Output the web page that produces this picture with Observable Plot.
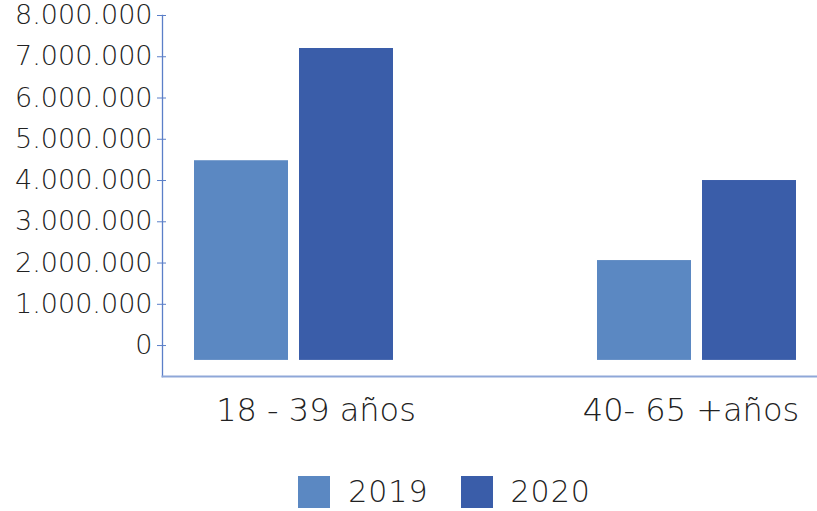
<!DOCTYPE html>
<html>
<head>
<meta charset="utf-8">
<script src="https://cdn.jsdelivr.net/npm/d3@7"></script>
<script src="https://cdn.jsdelivr.net/npm/@observablehq/plot@0.6"></script>
<style>
  body { margin: 0; background: #fff; font-family: "DejaVu Sans", sans-serif; }
  #legend { display: flex; justify-content: center; align-items: center; height: 71px; margin-top: 16px; margin-left: 72px; }
  .item { display: flex; align-items: center; margin: 0 16px; font-size: 30px; font-weight: 200; letter-spacing: 1px; color: #222; }
  .sw { width: 32px; height: 32px; margin-right: 18px; }
</style>
</head>
<body>
<div id="chart"></div>
<div id="legend"></div>
<script>
const categories = ["18 - 39 años", "40- 65 +años"];
const years = ["2019", "2020"];
const values2019 = [4480000, 2060000];
const values2020 = [7200000, 4000000];
const yTicks = [0, 1000000, 2000000, 3000000, 4000000, 5000000, 6000000, 7000000, 8000000];
const colors = {"2019": "#5b88c2", "2020": "#3a5da9"};
const baseline = -360000;   // bars start slightly below zero in the original
const yMin = -750000;

const data = [];
categories.forEach((c, i) => {
  data.push({category: c, year: "2019", value: values2019[i]});
  data.push({category: c, year: "2020", value: values2020[i]});
});

const loc = d3.formatLocale({decimal: ",", thousands: ".", grouping: [3], currency: ["", ""]});
const fmt = loc.format(",d");

const chart = Plot.plot({
  width: 817,
  height: 440,
  marginLeft: 162,
  marginRight: 0,
  marginTop: 15,
  marginBottom: 64,
  style: {fontFamily: "DejaVu Sans, sans-serif", fontWeight: 200, color: "#222", background: "#fff"},
  x: {domain: categories, range: [162, 828], paddingInner: 0.505, paddingOuter: 0.077},
  y: {domain: [yMin, 8000000]},
  marks: [
    Plot.barY(data.filter(d => d.year === "2019"), {x: "category", y1: baseline, y2: "value", fill: colors["2019"], insetRight: 105}),
    Plot.barY(data.filter(d => d.year === "2020"), {x: "category", y1: baseline, y2: "value", fill: colors["2020"], insetLeft: 105}),
    Plot.frame({anchor: "left", stroke: "#5b7fc8", strokeWidth: 1.3}),
    Plot.frame({anchor: "bottom", stroke: "#8fa7d8", strokeWidth: 2}),
    Plot.axisY({ticks: yTicks, tickFormat: fmt, tickSize: 9, dx: 4, tickPadding: 5, stroke: "#5b7fc8", fontSize: 27, fill: "#222", style: "letter-spacing:1px", label: null}),
    Plot.axisX({ticks: [categories[0]], tickSize: 0, tickPadding: 22, dx: 22, fontSize: 32, label: null, fill: "#222"}),
    Plot.axisX({ticks: [categories[1]], tickSize: 0, tickPadding: 22, dx: -6, fontSize: 32, label: null, fill: "#222"})
  ]
});
document.getElementById("chart").appendChild(chart);

const legend = document.getElementById("legend");
years.forEach(y => {
  const it = document.createElement("div");
  it.className = "item";
  const sw = document.createElement("div");
  sw.className = "sw";
  sw.style.background = colors[y];
  it.appendChild(sw);
  it.appendChild(document.createTextNode(y));
  legend.appendChild(it);
});
</script>
</body>
</html>
